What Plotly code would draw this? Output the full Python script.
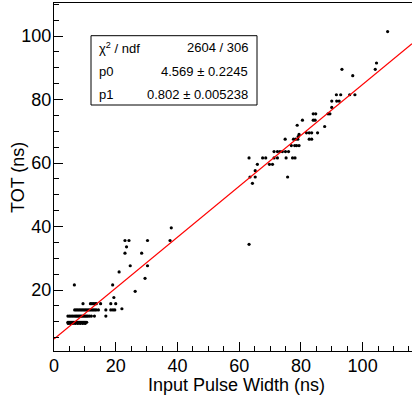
import plotly.graph_objects as go

# ---- data ----
pulse_width = [
    # TOT ~9.5 / 9.85 band
    4.6, 5.3, 6.1, 6.9, 7.7, 8.5, 9.3, 10.1,
    4.5, 4.8, 5.1, 5.4, 5.7, 6.0, 6.3, 6.6, 6.9, 7.2, 7.5, 7.8, 8.1, 8.4, 8.7, 9.0, 9.3, 9.6, 9.9, 10.2, 10.6,
    # TOT ~11.8
    4.5, 5.0, 5.5, 6.0, 6.5, 7.0, 7.4, 7.8, 8.2, 8.6, 9.0, 9.4, 9.8, 10.2, 10.6, 11.0, 11.5, 12.1, 13.1, 16.8,
    # TOT ~13.75
    6.7, 7.2, 7.7, 8.2, 8.7, 9.2, 9.7, 10.2, 10.7, 11.2, 11.7, 12.2, 12.7, 13.2, 13.7, 14.4, 16.8, 18.4, 19.1, 19.7,
    22.0,
    # TOT ~15.7
    9.4, 11.8, 12.3, 12.8, 13.3, 13.7, 15.1, 18.4, 20.0,
    # 17 - 40
    19.4, 26.3, 6.6, 19.0, 29.5, 21.1, 24.7, 30.3, 23.0, 28.4, 23.5,
    23.0, 24.3, 30.3, 37.6, 38.0,
    63.2,
    # upper cluster
    64.3,
    63.5, 65.2, 75.7,
    65.2,
    65.9, 69.8, 70.8,
    63.2, 67.6, 68.6, 71.3, 72.4, 75.2, 77.3, 78.1,
    71.3, 72.4, 73.2, 74.0, 75.0, 76.0,
    76.9, 78.0, 78.6, 79.4,
    74.9, 77.6, 78.3, 79.0, 82.7, 83.5,
    79.4, 79.1,
    81.8, 82.7, 83.5, 85.4,
    87.7, 78.8,
    80.5, 84.0, 84.6,
    84.0, 84.8, 88.8, 89.4,
    90.0,
    90.0, 91.6, 92.4,
    91.5, 92.9, 95.8, 97.5,
    96.8,
    93.3, 104.1,
    104.5,
    108.1,
]
tot = [
    9.5, 9.5, 9.5, 9.5, 9.5, 9.5, 9.5, 9.5,
    9.85, 9.85, 9.85, 9.85, 9.85, 9.85, 9.85, 9.85, 9.85, 9.85, 9.85, 9.85, 9.85, 9.85, 9.85, 9.85, 9.85, 9.85, 9.85, 9.85, 9.85,
    11.8, 11.8, 11.8, 11.8, 11.8, 11.8, 11.8, 11.8, 11.8, 11.8, 11.8, 11.8, 11.8, 11.8, 11.8, 11.8, 11.8, 11.8, 11.8, 11.8,
    13.75, 13.75, 13.75, 13.75, 13.75, 13.75, 13.75, 13.75, 13.75, 13.75, 13.75, 13.75, 13.75, 13.75, 13.75, 13.75, 13.75, 13.75, 13.75, 13.75,
    14.1,
    15.7, 15.7, 15.7, 15.7, 15.7, 15.7, 15.7, 15.7, 15.7,
    17.65, 19.6, 21.6, 21.6, 23.7, 25.7, 27.65, 27.65, 31.6, 31.6, 33.6,
    35.6, 35.6, 35.6, 35.6, 39.6,
    34.4,
    53.6,
    55.6, 55.6, 55.6,
    57.6,
    59.6, 59.6, 59.6,
    61.6, 61.6, 61.6, 61.6, 61.6, 61.6, 61.6, 61.6,
    63.6, 63.6, 63.6, 63.6, 63.6, 63.6,
    65.5, 65.5, 65.5, 65.5,
    67.5, 67.5, 67.5, 67.5, 67.5, 67.5,
    69.0, 68.3,
    69.5, 69.5, 69.5, 69.5,
    71.5, 71.9,
    73.5, 73.5, 73.5,
    75.5, 75.5, 75.5, 75.5,
    77.5,
    79.5, 79.5, 79.5,
    81.5, 81.5, 81.5, 81.5,
    87.5,
    89.5, 89.5,
    91.5,
    101.4,
]

p0, p0_err = 4.569, 0.2245
p1, p1_err = 0.802, 0.005238
chi2, ndf = 2604, 306

x_range = [0, 116]
y_range = [0.8, 110.4]

# ---- layout geometry (pixels) ----
W, H = 412, 396
L, R, T, B = 54, 412, 3, 351


def fx(px):
    return (px - L) / (R - L)


def fy(py):
    return (B - py) / (B - T)


FONT = "Liberation Sans, Arial, Helvetica, sans-serif"

fig = go.Figure()
fig.add_trace(go.Scatter(
    x=pulse_width, y=tot, mode="markers",
    marker=dict(color="black", size=3.2, line=dict(width=0)),
    hoverinfo="skip", showlegend=False,
))
fit_x = list(x_range)
fit_y = [p0 + p1 * v for v in fit_x]
fig.add_trace(go.Scatter(
    x=fit_x, y=fit_y, mode="lines",
    line=dict(color="#ff0000", width=1.2),
    hoverinfo="skip", showlegend=False,
))

axis_common = dict(
    showline=True, linecolor="black", linewidth=1.2,
    ticks="inside", ticklen=9, tickwidth=1.2, tickcolor="black",
    showgrid=False, zeroline=False,
    tickfont=dict(family=FONT, size=18, color="black"),
    minor=dict(ticks="inside", ticklen=5, tickwidth=1.2, tickcolor="black", dtick=5, showgrid=False),
    tick0=0, dtick=20,
)
fig.update_xaxes(range=x_range, mirror=True, ticklabelstandoff=-2, **axis_common)
fig.update_yaxes(range=y_range, mirror=False, ticklabelstandoff=-2, **axis_common)

# stats box
fig.add_shape(type="rect", xref="paper", yref="paper",
              x0=fx(91), x1=fx(257), y0=fy(105), y1=fy(35.7),
              line=dict(color="black", width=1), fillcolor="white", layer="above")

rows = [
    ("\u03c7<sup>2</sup> / ndf", f"{chi2} / {ndf}", 47.7),
    ("p0", f"{p0} \u00b1 {p0_err}", 71.0),
    ("p1", f"{p1} \u00b1 {p1_err}", 94.3),
]
for left, right, py in rows:
    fig.add_annotation(x=fx(97), y=fy(py), xref="paper", yref="paper",
                       text=left, showarrow=False, xanchor="left", yanchor="middle",
                       font=dict(family=FONT, size=13, color="black"))
    fig.add_annotation(x=fx(249.5), y=fy(py), xref="paper", yref="paper",
                       text=right, showarrow=False, xanchor="right", yanchor="middle",
                       font=dict(family=FONT, size=13, color="black"))

# axis titles
fig.add_annotation(x=fx(236), y=fy(385), xref="paper", yref="paper",
                   text="Input Pulse Width (ns)", showarrow=False,
                   xanchor="center", yanchor="middle",
                   font=dict(family=FONT, size=18, color="black"))
fig.add_annotation(x=fx(18), y=fy(178), xref="paper", yref="paper",
                   text="TOT (ns)", showarrow=False, textangle=-90,
                   xanchor="center", yanchor="middle",
                   font=dict(family=FONT, size=18, color="black"))

fig.update_layout(
    width=W, height=H,
    margin=dict(l=L, r=W - R, t=T, b=H - B, pad=0),
    paper_bgcolor="white", plot_bgcolor="white",
    showlegend=False,
)

fig.write_html("out.html")
